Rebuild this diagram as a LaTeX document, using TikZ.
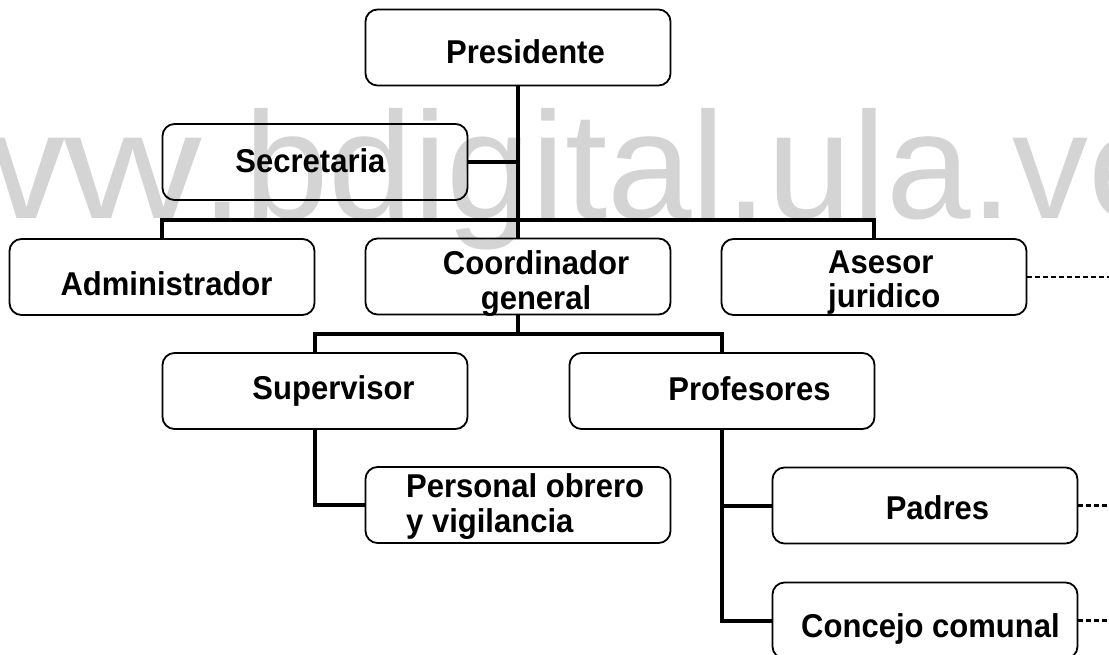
\documentclass[tikz,border=0pt]{standalone}
\usepackage{fontspec}
\setmainfont{Liberation Sans}
\usepackage{graphicx}
\definecolor{wmgray}{RGB}{212,212,212}
\newcommand\mytwoc[2]{\vtop{\hbox to 0pt{\hss#1\hss}\hbox to 0pt{\hss#2\hss}}}
\newcommand\mytwol[2]{\vtop{\hbox{#1}\hbox{#2}}}
\newcommand\sqz[1]{\scalebox{0.94}[1]{#1}}
\tikzset{
  orgbox/.style={draw=black, line width=1.8pt, rounded corners=12pt, minimum width=305pt, minimum height=76pt, inner sep=0pt},
  lbl/.style={inner sep=0pt, font=\bfseries\fontsize{33}{35}\selectfont, anchor=base},
  link/.style={line width=4pt},
  dlink/.style={line width=2.5pt, dash pattern=on 5pt off 3pt},
}
\begin{document}
\begin{tikzpicture}[x=1pt,y=-1pt]
\useasboundingbox (0,0) rectangle (1109,655);
\clip (0,0) rectangle (1109,655);
% watermark
\node[anchor=base west, inner sep=0pt, text=wmgray, font=\fontsize{152}{152}\selectfont] (wm) at (-210,219) {\scalebox{1.25}[1]{www}.bdigital.ula.ve};
% boxes
\node[orgbox] (pres) at (518,47.5) {};
\node[orgbox] (sec) at (315,162) {};
\node[orgbox] (adm) at (162,277) {};
\node[orgbox] (coord) at (518,276.5) {};
\node[orgbox] (ases) at (874,277) {};
\node[orgbox] (sup) at (315,391) {};
\node[orgbox] (prof) at (722,391) {};
\node[orgbox] (pers) at (518,505) {};
\node[orgbox] (pad) at (925,505.5) {};
\node[orgbox] (conc) at (925,620.5) {};
% labels
\node[lbl] (presT) at (525.5,64) {\sqz{Presidente}};
\node[lbl] (secT) at (310.5,173) {\sqz{Secretaria}};
\node[lbl] (admT) at (166.5,295) {\sqz{Administrador}};
\node[lbl] (coordT) at (536,275) {\sqz{\mytwoc{Coordinador}{general}}};
\node[lbl, anchor=base west] (asesT) at (828,273) {\sqz{\mytwol{Asesor}{juridico}}};
\node[lbl] (supT) at (333.5,399) {\sqz{Supervisor}};
\node[lbl] (profT) at (749.5,400) {\sqz{Profesores}};
\node[lbl, anchor=base west] (persT) at (406,497) {\sqz{\mytwol{Personal obrero}{y vigilancia}}};
\node[lbl] (padT) at (937.5,519) {\sqz{Padres}};
\node[lbl] (concT) at (930.5,637) {\sqz{Concejo comunal}};
% connectors
\coordinate (bar1) at (518,220);
\coordinate (bar2) at (518,334);
\coordinate (redge) at (1109,0);
\draw[link] (pres.south) -- (coord.north);
\draw[link] (sec.east) -- (sec.east -| pres.south);
\draw[link] (adm.north) |- (bar1) -| (ases.north);
\draw[link] (coord.south) -- (bar2);
\draw[link] (sup.north) |- (bar2) -| (prof.north);
\draw[link] (sup.south) |- (pers.west);
\draw[link] (prof.south) |- (pad.west);
\draw[link] (prof.south) |- (conc.west);
\draw[dlink] (ases.east) -- (ases.east -| redge);
\draw[dlink] (pad.east) -- (pad.east -| redge);
\draw[dlink] (conc.east) -- (conc.east -| redge);
\end{tikzpicture}
\end{document}
